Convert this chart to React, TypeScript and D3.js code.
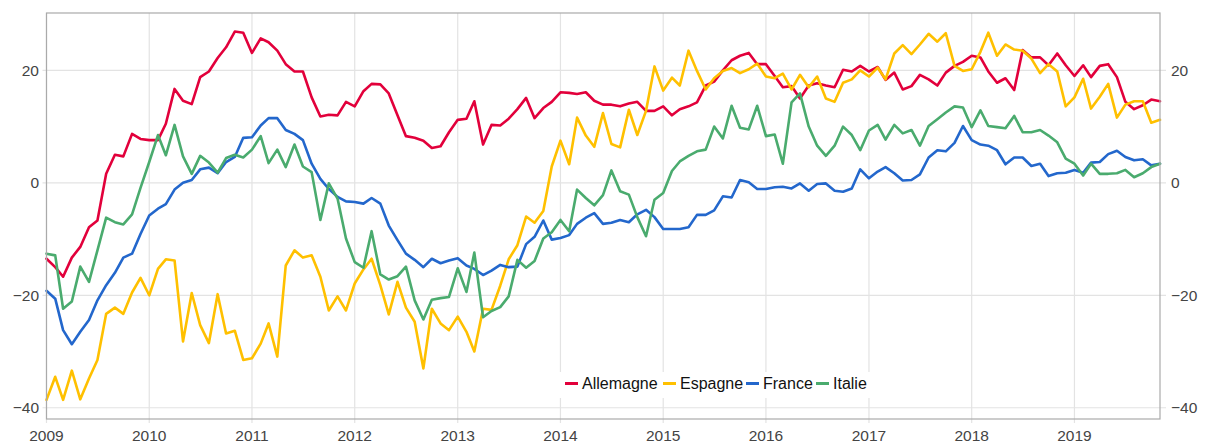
import * as d3 from 'd3'

// monthly values, Jan 2009 .. Nov 2019
const allemagne = [
  -13.5, -15.0, -16.7, -13.3, -11.4, -7.9, -6.7, 1.6, 5.0, 4.7, 8.7, 7.8,
  7.6, 7.6, 10.5, 16.7, 14.6, 14.0, 18.8, 19.8, 22.2, 24.1, 26.9, 26.7,
  23.1, 25.7, 25.0, 23.5, 21.1, 19.8, 19.8, 15.2, 11.8, 12.1, 12.0, 14.4,
  13.6, 16.3, 17.6, 17.5, 15.9, 12.0, 8.3, 8.0, 7.5, 6.2, 6.5, 9.0,
  11.2, 11.4, 14.5, 6.8, 10.3, 10.2, 11.4, 13.1, 15.1, 11.5, 13.3, 14.4,
  16.1, 16.0, 15.8, 16.1, 14.6, 13.9, 13.9, 13.6, 14.1, 14.4, 12.8, 12.8,
  13.6, 12.0, 13.1, 13.6, 14.3, 17.3, 18.0, 20.0, 21.8, 22.6, 23.1, 21.1,
  21.1, 19.0, 17.0, 17.2, 15.0, 17.3, 17.7, 17.3, 17.0, 20.1, 19.8, 20.8,
  19.8, 20.6, 18.3, 19.6, 16.6, 17.2, 19.2, 18.4, 17.3, 19.6, 20.8, 21.5,
  22.6, 22.3, 19.8, 17.8, 18.6, 16.5, 23.6, 22.3, 22.3, 20.9, 23.0, 20.9,
  19.0, 20.9, 18.8, 20.8, 21.1, 18.8, 14.4, 13.1, 13.8, 14.8, 14.5,
]

const espagne = [
  -38.6, -34.5, -38.6, -33.4, -38.5, -34.8, -31.5, -23.3, -22.2, -23.3, -19.5, -16.9,
  -20.0, -15.3, -13.6, -13.8, -28.2, -19.6, -25.3, -28.5, -19.8, -26.8, -26.3, -31.5,
  -31.2, -28.6, -25.0, -30.9, -14.7, -12.0, -13.3, -12.9, -16.7, -22.7, -20.2, -22.7,
  -17.9, -15.4, -13.5, -18.2, -23.4, -17.6, -22.2, -24.7, -33.0, -22.4, -25.0, -26.2,
  -23.8, -26.5, -30.0, -22.4, -22.6, -18.3, -13.6, -11.1, -6.0, -7.1, -5.0, 2.9,
  7.5, 3.3, 11.6, 8.4, 6.4, 12.4, 6.9, 6.3, 13.0, 8.5, 12.8, 20.7,
  16.4, 18.7, 17.3, 23.5, 19.9, 16.6, 18.6, 19.9, 20.4, 19.5, 20.2, 21.2,
  18.9, 18.6, 19.4, 16.6, 19.2, 17.0, 18.9, 15.0, 14.4, 17.8, 18.4, 20.0,
  18.9, 20.5, 18.4, 23.0, 24.5, 22.9, 24.6, 26.5, 25.1, 26.6, 20.8, 19.9,
  20.2, 23.3, 26.7, 22.6, 24.6, 23.7, 23.5, 22.1, 19.5, 21.1, 19.8, 13.6,
  15.2, 18.5, 13.2, 15.3, 17.6, 11.6, 13.9, 14.5, 14.5, 10.7, 11.2,
]

const france = [
  -19.2, -20.6, -26.2, -28.7, -26.5, -24.4, -20.9, -18.2, -16.0, -13.3, -12.6, -9.1,
  -5.8, -4.6, -3.8, -1.2, 0.0, 0.5, 2.4, 2.7, 1.7, 3.7, 4.6, 8.0,
  8.1, 10.2, 11.5, 11.5, 9.4, 8.7, 7.6, 3.4, 0.7, -1.1, -2.5, -3.3,
  -3.4, -3.7, -2.7, -3.7, -7.6, -10.2, -12.6, -13.7, -15.0, -13.5, -14.3, -13.8,
  -13.4, -14.7, -15.3, -16.4, -15.6, -14.6, -15.0, -14.9, -10.9, -9.6, -6.7, -10.1,
  -9.8, -9.3, -7.3, -6.2, -5.4, -7.3, -7.1, -6.6, -7.0, -5.6, -4.8, -6.1,
  -8.2, -8.2, -8.2, -7.9, -5.7, -5.7, -4.9, -2.4, -2.6, 0.5, 0.1, -1.1,
  -1.1, -0.8, -0.7, -1.0, -0.1, -1.4, -0.2, -0.1, -1.4, -1.6, -1.0, 2.4,
  0.8, 2.0, 2.8, 1.7, 0.4, 0.5, 1.5, 4.5, 5.8, 5.6, 7.1, 10.1,
  7.6, 6.8, 6.6, 5.8, 3.3, 4.5, 4.5, 3.0, 3.4, 1.2, 1.7, 1.8,
  2.3, 1.8, 3.6, 3.7, 5.1, 5.7, 4.6, 4.0, 4.2, 3.1, 3.4,
]

const italie = [
  -12.6, -12.9, -22.4, -21.1, -14.9, -17.6, -12.0, -6.2, -7.0, -7.4, -5.6, -0.9,
  3.7, 8.5, 4.9, 10.3, 4.7, 1.6, 4.8, 3.6, 1.8, 4.4, 5.0, 4.5,
  5.9, 8.3, 3.5, 5.9, 2.8, 6.8, 2.9, 1.9, -6.6, -0.1, -2.8, -9.9,
  -14.1, -15.1, -8.6, -16.3, -17.2, -16.6, -14.9, -20.9, -24.3, -20.8, -20.5, -20.3,
  -15.2, -19.4, -12.4, -23.9, -22.8, -22.1, -20.2, -13.7, -15.1, -13.9, -9.9, -8.8,
  -6.6, -8.6, -1.2, -2.7, -4.0, -2.2, 2.2, -1.5, -2.1, -6.1, -9.5, -3.0,
  -1.8, 2.1, 3.8, 4.8, 5.6, 5.9, 10.0, 7.9, 13.7, 9.8, 9.5, 13.7,
  8.3, 8.6, 3.4, 14.3, 15.9, 10.0, 6.6, 4.8, 6.6, 10.0, 8.5, 5.8,
  9.3, 10.3, 7.7, 10.3, 8.8, 9.4, 6.6, 10.1, 11.3, 12.5, 13.6, 13.4,
  9.9, 12.9, 10.1, 9.9, 9.7, 11.9, 9.0, 9.0, 9.4, 8.4, 7.2, 4.3,
  3.4, 1.3, 3.4, 1.6, 1.6, 1.7, 2.3, 1.0, 1.7, 2.8, 3.4,
]

const seriesNames = ['Allemagne', 'Espagne', 'France', 'Italie']
const seriesValues = [allemagne, espagne, france, italie]
const seriesColors = ['#e2003b', '#ffc000', '#2367cc', '#4aab6e']
const yTicks = [-40, -20, 0, 20]

const months = d3.timeMonth.range(new Date(2009, 0, 1), new Date(2019, 11, 1))
const years = d3.timeYear.range(new Date(2009, 0, 1), new Date(2020, 0, 1))

const width = 1206
const height = 443
const left = 46.5
const right = 1160
const top = 13
const bottom = 419

export default function App() {
  const x = d3.scaleTime([months[0], months[months.length - 1]], [left, right])
  const y = d3.scaleLinear([-42, 30.2], [bottom, top])

  const line = d3
    .line<number>()
    .x((_, i) => x(months[i]))
    .y((d) => y(d))

  const fmt = (v: number) => (v < 0 ? '\u2212' + Math.abs(v) : String(v))
  const font = '"Liberation Sans", Arial, Helvetica, sans-serif'

  // legend layout
  const legendItems = [
    { x: 565 },
    { x: 663 },
    { x: 746 },
    { x: 816 },
  ]
  const legendY = 383.5

  return (
    <svg
      width={width}
      height={height}
      style={{ position: 'absolute', left: 0, top: 0, fontFamily: font }}
    >
      <rect width={width} height={height} fill="#fff" />
      {/* grid */}
      <g stroke="#e3e3e3" strokeWidth={1.2}>
        {yTicks.map((t) => (
          <line key={t} x1={left - 4} x2={right + 6} y1={y(t)} y2={y(t)} />
        ))}
        {years.map((d) => (
          <line key={+d} x1={x(d)} x2={x(d)} y1={top} y2={bottom + 4} />
        ))}
      </g>
      {/* legend box hides grid */}
      <rect x={558} y={372} width={312} height={26} fill="#fff" />
      {/* lines */}
      <g fill="none" strokeWidth={2.6} strokeLinejoin="round" strokeLinecap="round">
        {seriesValues.map((vals, k) => (
          <path key={k} d={line(vals) ?? ''} stroke={seriesColors[k]} />
        ))}
      </g>
      {/* frame */}
      <rect
        x={left}
        y={top}
        width={right - left}
        height={bottom - top}
        fill="none"
        stroke="#aaa"
        strokeWidth={1.2}
      />
      {/* y labels */}
      <g fontSize={15.5} fill="#444">
        {yTicks.map((t) => (
          <text key={'l' + t} x={39} y={y(t)} dy="0.35em" textAnchor="end">
            {fmt(t)}
          </text>
        ))}
        {yTicks.map((t) => (
          <text key={'r' + t} x={1171} y={y(t)} dy="0.35em" textAnchor="start">
            {fmt(t)}
          </text>
        ))}
        {years.map((d) => (
          <text key={+d} x={x(d)} y={441} textAnchor="middle">
            {d3.timeFormat('%Y')(d)}
          </text>
        ))}
      </g>
      {/* legend */}
      <g fontSize={16} fill="#111">
        {seriesNames.map((name, k) => (
          <g key={name} transform={`translate(${legendItems[k].x},${legendY})`}>
            <line x1={0} x2={13} y1={0} y2={0} stroke={seriesColors[k]} strokeWidth={3} />
            <text x={17} y={0} dy="0.35em">
              {name}
            </text>
          </g>
        ))}
      </g>
    </svg>
  )
}
